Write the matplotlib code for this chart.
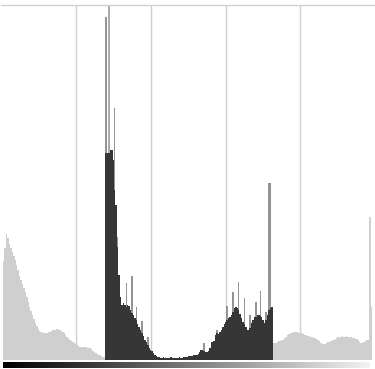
import numpy as np
import matplotlib
matplotlib.use("Agg")
import matplotlib.pyplot as plt

# Pixel counts per tonal level (0-255), split into the three tonal zones
shadows = [
    99, 112, 126, 122, 116, 112, 108, 104, 100, 95, 90, 84, 80, 76, 72, 68,
    63, 58, 53, 49, 45, 41, 37, 34, 31, 29, 28, 27, 27, 27, 27, 28,
    28, 29, 30, 30, 30, 31, 31, 30, 29, 28, 27, 25, 23, 22, 20, 19,
    18, 17, 16, 15, 14, 13, 13, 13, 13, 13, 12, 12, 12, 11, 9, 8,
    7, 6, 5, 5, 4, 3, 3,
]
selection = [
    207, 207, 207, 210, 210, 200, 170, 155, 113, 85, 63, 55, 57, 55, 53, 55,
    54, 50, 47, 45, 42, 40, 36, 33, 30, 27, 24, 20, 18, 15, 12, 10,
    9, 7, 5, 4, 3, 3, 2, 2, 3, 2, 2, 2, 2, 3, 2, 2,
    2, 2, 2, 3, 2, 2, 3, 3, 3, 4, 4, 4, 4, 5, 5, 5,
    6, 8, 10, 10, 9, 8, 8, 9, 12, 18, 18, 19, 25, 27, 26, 28,
    30, 33, 36, 38, 40, 42, 43, 45, 48, 52, 53, 52, 50, 46, 42, 38,
    36, 33, 30, 30, 32, 37, 40, 43, 43, 45, 45, 44, 43, 40, 37, 40,
    45, 50, 52, 53,
]
highlights = [
    17, 17, 17, 18, 19, 19, 20, 20, 22, 23, 25, 26, 27, 27, 28, 28,
    28, 28, 27, 27, 27, 26, 25, 25, 24, 24, 23, 23, 22, 22, 21, 20,
    19, 17, 16, 16, 16, 17, 18, 18, 19, 20, 20, 21, 22, 23, 23, 23,
    24, 23, 23, 24, 23, 23, 23, 22, 22, 21, 21, 20, 18, 17, 17, 18,
    19, 20, 20, 143, 53,
]

# Isolated spikes rising above the selected range
peak_levels = [71, 73, 77, 79, 85, 89, 92, 96, 100, 139, 148, 155, 159,
               163, 167, 171, 175, 178, 182, 184, 185]
peak_counts = [343, 420, 252, 123, 77, 84, 53, 39, 23, 17, 30, 54, 68,
               78, 62, 45, 58, 69, 48, 177, 177]

counts = np.array(shadows + selection + highlights, dtype=float)
edges = np.arange(len(counts) + 1)
sel_lo = len(shadows)
sel_hi = sel_lo + len(selection)

W, H = 375, 369
fig = plt.figure(figsize=(W / 100, H / 100), dpi=100)
fig.patch.set_facecolor("white")

ax = fig.add_axes([1.5 / W, (H - 360) / H, 373.5 / W, 355 / H])
bw = 369 / 256
x0 = (1.5 - 3) / bw
x1 = (375 - 3) / bw
ymax = 355
ax.set_xlim(x0, x1)
ax.set_ylim(0, ymax)

# Five equal divisions across the panel
for k in range(1, 5):
    ax.axvline(x0 + (x1 - x0) * k / 5, color="#cfcfcf", lw=1.0, zorder=0)

light = "#cfcfcf"
ax.stairs(counts[:sel_lo], edges[:sel_lo + 1], fill=True, color=light, lw=0, zorder=1)
ax.stairs(counts[sel_hi:], edges[sel_hi:], fill=True, color=light, lw=0, zorder=1)

# Spikes that overflow the panel are drawn in a lighter shade
peak_colors = ["#ababab" if c > ymax else "#949494" for c in peak_counts]
ax.bar(peak_levels, peak_counts, width=1, align="edge", color=peak_colors, lw=0, zorder=2)
ax.stairs(counts[sel_lo:sel_hi], edges[sel_lo:sel_hi + 1], fill=True,
          color="#363636", lw=0, zorder=3)

for side in ("left", "right", "bottom"):
    ax.spines[side].set_visible(False)
ax.spines["top"].set_color("#d2d2d2")
ax.spines["top"].set_linewidth(1.0)
ax.set_xticks([])
ax.set_yticks([])

# Tonal ramp beneath the histogram
gax = fig.add_axes([3 / W, 1 / H, 367 / W, 6.5 / H])
ramp = np.linspace(0.0, 0.95, 256)[None, :]
gax.imshow(ramp, cmap="gray", vmin=0, vmax=1, aspect="auto", interpolation="bilinear")
gax.axis("off")

fig.savefig("out.png", dpi=100, facecolor="white")
